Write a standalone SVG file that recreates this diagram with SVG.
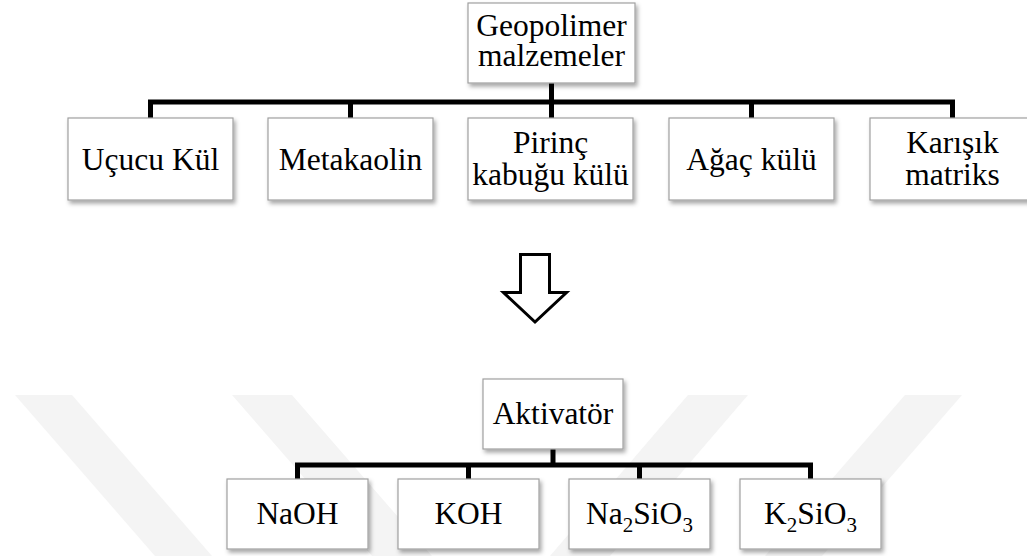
<svg xmlns="http://www.w3.org/2000/svg" width="1027" height="556" viewBox="0 0 1027 556">
<style>
.box{fill:#fff;stroke:#a0a0a0;stroke-width:1.2;filter:url(#sh)}
.t{font-family:'Liberation Serif','Times New Roman','DejaVu Serif',serif;font-size:31.5px;fill:#000;text-anchor:middle}
.con{fill:none;stroke:#000;stroke-width:5}
.wm{fill:#f4f4f4}
</style>
<defs>
<filter id="sh" x="-10%" y="-10%" width="130%" height="140%">
<feDropShadow dx="2" dy="3" stdDeviation="2" flood-color="#000" flood-opacity="0.35"/>
</filter>
</defs>
<rect width="1027" height="556" fill="#fff"/>
<g id="watermark">
<polygon class="wm" points="15,395 72,395 212,556 155,556"/>
<polygon class="wm" points="232,395 292,395 432,556 372,556"/>
<polygon class="wm" points="688,395 748,395 610,556 550,556"/>
<polygon class="wm" points="905,395 962,395 822,556 765,556"/>
</g>
<g id="connectors">
<path class="con" d="M551.5,83 V102 M150.5,118 V102 H952.5 V118 M350.5,102 V118 M551.5,102 V118 M751.5,102 V118"/>
<path class="con" d="M553,449 V465 M297.5,479 V465 H810.5 V479 M468.5,465 V479 M639.5,465 V479"/>
</g>
<g id="n-geopolimer">
<rect class="box" x="468" y="3" width="167" height="80"/>
<text class="t" x="551.5" y="36" font-family="Liberation Serif, serif">Geopolimer</text>
<text class="t" x="551.5" y="66" font-family="Liberation Serif, serif">malzemeler</text>
</g>
<g id="n-ucucu">
<rect class="box" x="68" y="118" width="165" height="82"/>
<text class="t" x="150.5" y="170">Uçucu Kül</text>
</g>
<g id="n-metakaolin">
<rect class="box" x="268" y="118" width="165" height="82"/>
<text class="t" x="350.5" y="170">Metakaolin</text>
</g>
<g id="n-pirinc">
<rect class="box" x="468" y="118" width="165" height="82"/>
<text class="t" x="550.5" y="153">Pirinç</text>
<text class="t" x="550.5" y="185">kabuğu külü</text>
</g>
<g id="n-agac">
<rect class="box" x="669" y="118" width="165" height="82"/>
<text class="t" x="751.5" y="170">Ağaç külü</text>
</g>
<g id="n-karisik">
<rect class="box" x="870" y="118" width="165" height="82"/>
<text class="t" x="952.5" y="153">Karışık</text>
<text class="t" x="952.5" y="185">matriks</text>
</g>
<g id="arrow">
<polygon points="520.5,254.5 549.5,254.5 549.5,292.5 566.5,292.5 535,322 503.5,292.5 520.5,292.5" fill="#fff" stroke="#000" stroke-width="3" stroke-linejoin="miter"/>
</g>
<g id="n-aktivator">
<rect class="box" x="483" y="379" width="140" height="70"/>
<text class="t" x="553" y="424">Aktivatör</text>
</g>
<g id="n-naoh">
<rect class="box" x="227" y="479" width="141" height="70"/>
<text class="t" x="297.5" y="524">NaOH</text>
</g>
<g id="n-koh">
<rect class="box" x="398" y="479" width="141" height="70"/>
<text class="t" x="468.5" y="524">KOH</text>
</g>
<g id="n-na2sio3">
<rect class="box" x="569" y="479" width="141" height="70"/>
<text class="t" x="639.5" y="524">Na<tspan font-size="21" dy="8">2</tspan><tspan dy="-8">SiO</tspan><tspan font-size="21" dy="8">3</tspan></text>
</g>
<g id="n-k2sio3">
<rect class="box" x="740" y="479" width="141" height="70"/>
<text class="t" x="810.5" y="524">K<tspan font-size="21" dy="8">2</tspan><tspan dy="-8">SiO</tspan><tspan font-size="21" dy="8">3</tspan></text>
</g>
</svg>
